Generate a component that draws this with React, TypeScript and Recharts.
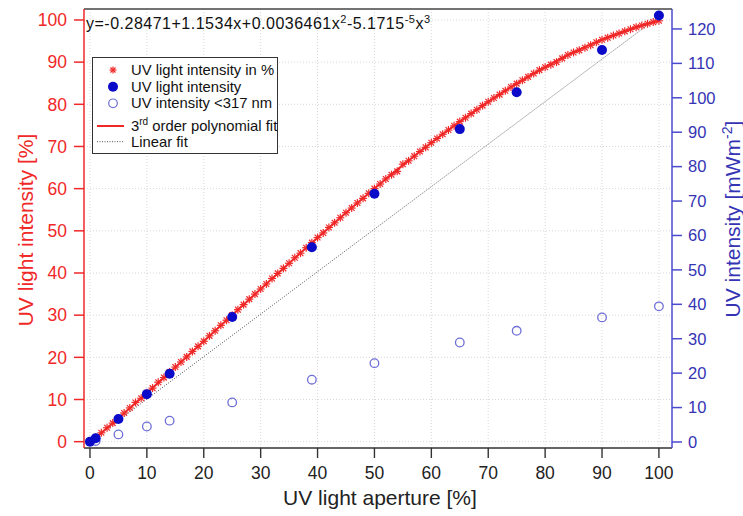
import { ComposedChart, Line, Scatter, XAxis, YAxis, CartesianGrid, Legend, ReferenceLine } from "recharts";

const FONT = "'Liberation Sans', Arial, Helvetica, sans-serif";
const RED = "#f02828";
const BLUE_AXIS = "#4a4ad0";
const BLUE_TEXT = "#3434b4";

// UV light intensity in % vs aperture, one reading per 1 % aperture (index = aperture)
const starPct = [
  0.0, 1.0, 2.1, 3.3, 4.4, 5.5, 6.8, 8.0, 9.3, 10.3,
  11.6, 12.7, 14.1, 15.2, 16.5, 17.7, 18.9, 20.1, 21.4, 22.6,
  23.8, 25.1, 26.3, 27.6, 28.8, 30.0, 31.3, 32.5, 33.8, 35.0,
  36.2, 37.4, 38.7, 39.9, 41.1, 42.3, 43.6, 44.7, 46.0, 47.2,
  48.4, 49.5, 50.8, 51.9, 53.1, 54.3, 55.4, 56.6, 57.7, 58.9,
  60.0, 61.1, 62.3, 63.3, 64.1, 65.8, 66.6, 67.7, 68.8, 69.8,
  70.9, 71.9, 72.9, 73.9, 74.9, 75.9, 76.8, 77.8, 78.7, 79.7,
  80.6, 81.5, 82.3, 83.2, 84.1, 84.9, 85.7, 86.5, 87.3, 88.1,
  88.8, 89.4, 90.0, 90.9, 91.7, 92.3, 92.8, 93.4, 94.0, 94.7,
  95.3, 95.8, 96.3, 96.8, 97.3, 97.8, 98.3, 98.7, 99.1, 99.5,
  99.8,
];

// 3rd order polynomial fit
const fitAperture = [0, 5, 10, 15, 20, 25, 30, 35, 40, 45, 50, 55, 60, 65, 70, 75, 80, 85, 90, 95, 100];
const fitPct = [-0.28, 5.57, 11.56, 17.66, 23.83, 30.02, 36.2, 42.33, 48.38, 54.29, 60.04, 65.58, 70.88, 75.89, 80.58, 84.91, 88.84, 92.34, 95.35, 97.85, 99.8];

// linear fit end points
const linAperture = [0, 100];
const linPct = [0, 100.8];

// measured intensity, mW m^-2
const measAperture = [0, 1, 5, 10, 14, 25, 39, 50, 65, 75, 90, 100];
const uvTotal = [0.1, 1.1, 6.7, 13.9, 19.8, 36.3, 56.6, 72.1, 90.9, 101.6, 113.9, 123.9];

const uvbAperture = [1, 5, 10, 14, 25, 39, 50, 65, 75, 90, 100];
const uvBelow317 = [0.3, 2.2, 4.5, 6.2, 11.5, 18.1, 22.9, 28.9, 32.3, 36.2, 39.4];

const xTicks = [0, 10, 20, 30, 40, 50, 60, 70, 80, 90, 100];
const leftTicks = [0, 10, 20, 30, 40, 50, 60, 70, 80, 90, 100];
const rightTicks = [0, 10, 20, 30, 40, 50, 60, 70, 80, 90, 100, 110, 120];

const starData = starPct.map((y, i) => ({ x: i, y }));
const fitData = fitAperture.map((x, i) => ({ x, y: fitPct[i] }));
const linData = linAperture.map((x, i) => ({ x, y: linPct[i] }));
const totalData = measAperture.map((x, i) => ({ x, y: uvTotal[i] }));
const uvbData = uvbAperture.map((x, i) => ({ x, y: uvBelow317[i] }));

const LEFT_MAX = 102.6;

function Asterisk({ cx, cy, r = 4 }: { cx: number; cy: number; r?: number }) {
  const d = r * 0.72;
  return (
    <g stroke={RED} strokeWidth={1.2}>
      <line x1={cx - r} y1={cy} x2={cx + r} y2={cy} />
      <line x1={cx} y1={cy - r} x2={cx} y2={cy + r} />
      <line x1={cx - d} y1={cy - d} x2={cx + d} y2={cy + d} />
      <line x1={cx - d} y1={cy + d} x2={cx + d} y2={cy - d} />
    </g>
  );
}

function LegendBox() {
  return (
    <svg width={186} height={97} style={{ display: "block" }}>
      <rect x={0.5} y={0.5} width={185} height={96} fill="#fff" stroke="#333" strokeWidth={1} />
      <g fontFamily={FONT} fontSize={14.8} fill="#111">
        <Asterisk cx={21} cy={13} r={3.5} />
        <text x={39} y={18}>UV light intensity in %</text>
        <circle cx={21} cy={29.7} r={5} fill="#0a0ac8" />
        <text x={39} y={34.5}>UV light intensity</text>
        <circle cx={21} cy={46.3} r={4.3} fill="none" stroke="#6f6fd6" strokeWidth={1.2} />
        <text x={39} y={51}>UV intensity &lt;317 nm</text>
        <line x1={5} y1={69} x2={32} y2={69} stroke={RED} strokeWidth={2} />
        <text x={39} y={74}>
          3<tspan dy={-6} fontSize={10}>rd</tspan>
          <tspan dy={6}> order polynomial fit</tspan>
        </text>
        <line x1={5} y1={84.7} x2={32} y2={84.7} stroke="#555" strokeWidth={1} strokeDasharray="1 1.5" />
        <text x={39} y={90}>Linear fit</text>
      </g>
    </svg>
  );
}

function renderXTitle() {
  return (
    <g fontFamily={FONT}>
      <text x={380} y={505} textAnchor="middle" fontSize={21} fill="#222">
        UV light aperture [%]
      </text>
      <text x={86} y={29} fontSize={16} fill="#111" letterSpacing={0.5}>
        y=-0.28471+1.1534x+0.0036461x<tspan dy={-6} fontSize={11}>2</tspan>
        <tspan dy={6}>-5.1715</tspan>
        <tspan dy={-6} fontSize={11}>-5</tspan>
        <tspan dy={6}>x</tspan>
        <tspan dy={-6} fontSize={11}>3</tspan>
      </text>
    </g>
  );
}

function renderLeftTitle() {
  return (
    <text
      x={33}
      y={230}
      transform="rotate(-90 33 230)"
      textAnchor="middle"
      fontFamily={FONT}
      fontSize={21}
      fill={RED}
    >
      UV light intensity [%]
    </text>
  );
}

function renderRightTitle() {
  return (
    <text
      x={740}
      y={219}
      transform="rotate(-90 740 219)"
      textAnchor="middle"
      fontFamily={FONT}
      fontSize={21}
      fill={BLUE_TEXT}
    >
      UV intensity [mWm<tspan dy={-8} fontSize={14}>-2</tspan>
      <tspan dy={8}>]</tspan>
    </text>
  );
}

export default function App() {
  return (
    <div style={{ position: "absolute", left: 0, top: 0, width: 743, height: 516, background: "#fff" }}>
      <ComposedChart width={743} height={516} margin={{ top: 9, right: 0, bottom: 0, left: 0 }}>
        <CartesianGrid
          yAxisId="left"
          stroke="#d8d8d8"
          strokeDasharray="1 2"
          horizontalValues={leftTicks}
          verticalValues={xTicks}
        />
        <XAxis
          type="number"
          dataKey="x"
          domain={[-1.05, 102.3]}
          allowDataOverflow
          ticks={xTicks}
          height={68}
          tickSize={10}
          tickMargin={9}
          stroke="#333"
          axisLine={{ stroke: "#333", strokeWidth: 1.6 }}
          tickLine={{ stroke: "#333", strokeWidth: 1.4 }}
          tick={{ fill: "#222", fontSize: 17.5, fontFamily: FONT }}
          label={{ content: renderXTitle }}
        />
        <YAxis
          yAxisId="left"
          type="number"
          dataKey="y"
          domain={[-1.5, LEFT_MAX]}
          allowDataOverflow
          ticks={leftTicks}
          width={84}
          tickSize={10}
          tickMargin={7}
          axisLine={{ stroke: RED, strokeWidth: 1.5 }}
          tickLine={{ stroke: RED, strokeWidth: 1.5 }}
          tick={{ fill: RED, fontSize: 17.5, fontFamily: FONT }}
          label={{ content: renderLeftTitle }}
        />
        <YAxis
          yAxisId="right"
          orientation="right"
          type="number"
          dataKey="y"
          domain={[-1.75, 125.8]}
          allowDataOverflow
          ticks={rightTicks}
          width={71}
          tickSize={10}
          tickMargin={6}
          axisLine={{ stroke: BLUE_AXIS, strokeWidth: 1.5 }}
          tickLine={{ stroke: BLUE_AXIS, strokeWidth: 1.5 }}
          tick={{ fill: BLUE_TEXT, fontSize: 16.5, fontFamily: FONT }}
          label={{ content: renderRightTitle }}
        />
        <ReferenceLine yAxisId="left" y={LEFT_MAX} stroke="#444" strokeWidth={1.5} />
        <Line
          yAxisId="left"
          data={linData}
          dataKey="y"
          stroke="#555"
          strokeWidth={1}
          strokeDasharray="1 1.5"
          dot={false}
          isAnimationActive={false}
        />
        <Scatter
          yAxisId="right"
          data={uvbData}
          isAnimationActive={false}
          shape={(p: any) => <circle cx={p.cx} cy={p.cy} r={4.3} fill="none" stroke="#6f6fd6" strokeWidth={1.3} />}
        />
        <Line
          yAxisId="left"
          data={fitData}
          dataKey="y"
          type="monotone"
          stroke={RED}
          strokeWidth={2}
          dot={false}
          isAnimationActive={false}
        />
        <Scatter
          yAxisId="left"
          data={starData}
          isAnimationActive={false}
          shape={(p: any) => <Asterisk cx={p.cx} cy={p.cy} />}
        />
        <Scatter
          yAxisId="right"
          data={totalData}
          isAnimationActive={false}
          shape={(p: any) => <circle cx={p.cx} cy={p.cy} r={5} fill="#0a0ac8" />}
        />
        <Legend
          layout="vertical"
          align="center"
          verticalAlign="middle"
          content={() => <LegendBox />}
          wrapperStyle={{ left: 92, top: 57, width: 186, height: 97 }}
        />
      </ComposedChart>
    </div>
  );
}
